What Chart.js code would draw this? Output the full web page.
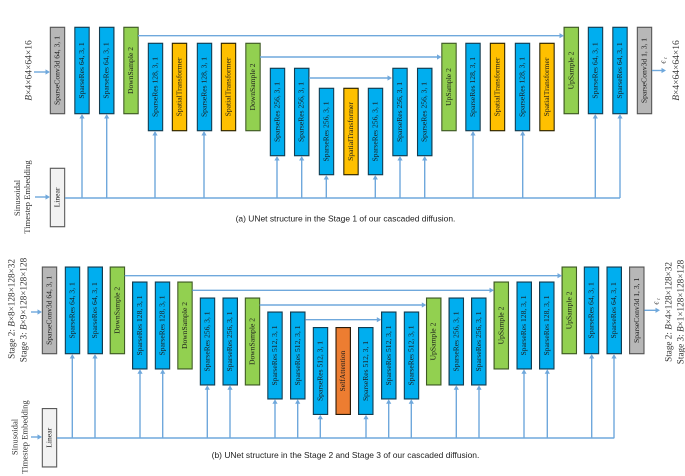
<!DOCTYPE html>
<html><head><meta charset="utf-8">
<script src="https://cdn.jsdelivr.net/npm/chart.js@4"></script>
<style>html,body{margin:0;padding:0;background:#fff}#w{position:relative;width:685px;height:476px}canvas{display:block;filter:blur(.3px)}</style>
</head><body><div id="w"><canvas id="c"></canvas></div>
<script>
// Block labels (panel a, then panel b)
const names = [
 "SparseConv3d 64, 3, 1","SparseRes 64, 3, 1","SparseRes 64, 3, 1","DownSample 2",
 "SparseRes 128, 3, 1","SpatialTransformer","SparseRes 128, 3, 1","SpatialTransformer","DownSample 2",
 "SparseRes 256, 3, 1","SparseRes 256, 3, 1","SparseRes 256, 3, 1","SpatialTransformer","SparseRes 256, 3, 1",
 "SparseRes 256, 3, 1","SparseRes 256, 3, 1","UpSample 2","SparseRes 128, 3, 1","SpatialTransformer",
 "SparseRes 128, 3, 1","SpatialTransformer","UpSample 2","SparseRes 64, 3, 1","SparseRes 64, 3, 1","SparseConv3d 1, 3, 1","Linear",
 "SparseConv3d 64, 3, 1","SparseRes 64, 3, 1","SparseRes 64, 3, 1","DownSample 2",
 "SparseRes 128, 3, 1","SparseRes 128, 3, 1","DownSample 2","SparseRes 256, 3, 1","SparseRes 256, 3, 1","DownSample 2",
 "SparseRes 512, 3, 1","SparseRes 512, 3, 1","SparseRes 512, 3, 1","SelfAttention","SparseRes 512, 3, 1",
 "SparseRes 512, 3, 1","SparseRes 512, 3, 1","UpSample 2","SparseRes 256, 3, 1","SparseRes 256, 3, 1",
 "UpSample 2","SparseRes 128, 3, 1","SparseRes 128, 3, 1","UpSample 2","SparseRes 64, 3, 1","SparseRes 64, 3, 1","SparseConv3d 1, 3, 1","Linear"];
// Block centres on the x axis
const centers = [
 57.5,82,106.7,131,155.5,179.5,204.5,228.5,253,277.5,301.7,326.5,351,375.5,400,424.7,449,473,497.5,522.5,547,571.3,595.5,620,644.5,57.5,
 49.5,72.5,95.2,117.4,139.8,162.5,185,207.5,230.2,252.5,275,297.8,320.5,343.2,365.8,388.8,411.5,433.7,456.3,478.8,501.3,524.2,546.8,569.3,591.5,614.2,636.8,49.5];
// Block top and bottom on the y axis
const tops = [
 27,27,27,27,43,43,43,43,43,68,68,88,88,88,68,68,43,43,43,43,43,27,27,27,27,168,
 266.7,266.7,266.7,266.7,281.7,281.7,281.7,297.7,297.7,297.7,311.7,311.7,327.3,327.3,327.3,311.7,311.7,297.7,297.7,297.7,281.7,281.7,281.7,266.7,266.7,266.7,266.7,408.3];
const bottoms = [
 114,114,114,114,131,131,131,131,131,156,156,175,175,175,156,156,131,131,131,131,131,114,114,114,114,227,
 354,354,354,354,369.3,369.3,369.3,385.3,385.3,385.3,399.3,399.3,414.7,414.7,414.7,399.3,399.3,385.3,385.3,385.3,369.3,369.3,369.3,354,354,354,354,467.3];
// Kind colours
const fills = {SparseConv:"#b7b7b7",SparseRes:"#00aeef",DownSample:"#92d050",UpSample:"#92d050",SpatialTransformer:"#ffc000",SelfAttention:"#ed7d31",Linear:"#f2f2f2"};
const edges = {SparseConv:"#555555",SparseRes:"#143c50",DownSample:"#3f5a25",UpSample:"#3f5a25",SpatialTransformer:"#2a2200",SelfAttention:"#2a1a08",Linear:"#5a5a5a"};
// Connections
const trunkA = {y:198,from:65,to:620};
const tapsA = [82,106.7,155,204,277,301.7,326.3,375.3,400,424.7,473,522.7,595.3,620];
const tapEndsA = [114,114,131,131,156,156,175,175,156,156,131,131,114,114];
const trunkB = {y:438,from:57,to:614.3};
const tapsB = [72.3,95,140,162.7,207.3,230,275,297.7,320.3,366,388.7,411.3,456.3,479,524,547.3,591.7,614];
const tapEndsB = [354,354,369.3,369.3,385.3,385.3,399.3,399.3,414.7,414.7,399.3,399.3,385.3,385.3,369.3,369.3,354,354];
const skipY = [35.7,57,78,275.7,290.3,305,319.7];
const skipFrom = [138,260,309,124.7,192.3,259.7,305.3];
const skipTo = [564,441.5,392,562,494,426.3,381.3];
const stubY = [72,197,70.5,312,437,310.3];
const stubFrom = [34,35,652,31,31,644.3];
const stubTo = [50,50,666,42,42,660];
// Free text
const sideTexts = ["B×4×64×64×16","Sinusoidal","Timestep Embedding","B×4×64×64×16",
 "Stage 2: B×8×128×128×32","Stage 3: B×9×128×128×128","Sinusoidal","Timestep Embedding","Stage 2: B×4×128×128×32","Stage 3: B×1×128×128×128"];
const sideX = [29,17.5,27.5,676.5,12.3,24.3,15,25,669.3,681];
const sideY = [70.5,198,197,70.5,309,310,437,437,312,312];
const sideSizes = [9.5,8.6,8.6,9.5,9.2,9.2,8.6,8.6,9.2,9.2];
const captions = ["(a) UNet structure in the Stage 1 of our cascaded diffusion.","(b) UNet structure in the Stage 2 and Stage 3 of our cascaded diffusion."];
const captionX = [345.5,345.5];
const captionY = [219,455.7];
const epsX = [663.5,656.5];
const epsY = [62,303];

const kind = n => n.startsWith("SparseConv") ? "SparseConv" : n.split(" ")[0];
const LINE = "#6fa8dc", TIP = 3;
const lineDs = (pts, arrow) => ({type:"scatter",showLine:true,data:pts,borderColor:LINE,backgroundColor:LINE,
  borderWidth:1.4,pointStyle:"triangle",pointBorderWidth:0,
  pointRadius:pts.map((p,i)=>arrow!==undefined&&i===pts.length-1?TIP:0),
  pointRotation:arrow||0,pointHoverRadius:0,order:0});
const datasets = [];
for (const t of [trunkA,trunkB]) datasets.push(lineDs([{x:t.from,y:t.y},{x:t.to,y:t.y}]));
tapsA.forEach((x,i)=>datasets.push(lineDs([{x,y:trunkA.y},{x,y:tapEndsA[i]+TIP}],0)));
tapsB.forEach((x,i)=>datasets.push(lineDs([{x,y:trunkB.y},{x,y:tapEndsB[i]+TIP}],0)));
skipY.forEach((y,i)=>datasets.push(lineDs([{x:skipFrom[i],y},{x:skipTo[i]-TIP,y}],90)));
stubY.forEach((y,i)=>datasets.push(lineDs([{x:stubFrom[i],y},{x:stubTo[i]-TIP,y}],90)));
datasets.push({type:"bar",data:names.map((n,i)=>({x:centers[i],y:[tops[i],bottoms[i]]})),
  backgroundColor:names.map(n=>fills[kind(n)]),borderColor:names.map(n=>edges[kind(n)]),
  borderWidth:1.2,borderSkipped:false,barThickness:15,grouped:false,order:1});

function rotated(ctx,text,x,y,size,family){
  ctx.save();ctx.translate(x,y);ctx.rotate(-Math.PI/2);ctx.textBaseline="middle";
  const runs=text.split(/(B(?=×))/).filter(Boolean);
  const font=r=>`${r==="B"?"italic ":""}${size}px ${family}`;
  let w=0;for(const r of runs){ctx.font=font(r);w+=ctx.measureText(r).width;}
  let p=-w/2;ctx.textAlign="left";
  for(const r of runs){ctx.font=font(r);ctx.fillText(r,p,0);p+=ctx.measureText(r).width;}
  ctx.restore();
}
const textPlugin={id:"texts",afterDatasetsDraw(ch){
  const {ctx,scales:{x:X,y:Y}}=ch;ctx.save();ctx.fillStyle="#1c1c1c";
  names.forEach((n,i)=>rotated(ctx,n,X.getPixelForValue(centers[i]),Y.getPixelForValue((tops[i]+bottoms[i])/2),7.6,"'Liberation Serif'"));
  ctx.fillStyle="#333";
  sideTexts.forEach((t,i)=>rotated(ctx,t,X.getPixelForValue(sideX[i]),Y.getPixelForValue(sideY[i]),sideSizes[i],"'Liberation Serif'"));
  epsX.forEach((x,i)=>{ctx.save();ctx.translate(X.getPixelForValue(x),Y.getPixelForValue(epsY[i]));ctx.rotate(-Math.PI/2);
    ctx.textAlign="center";ctx.textBaseline="middle";ctx.font="italic 8px 'Liberation Serif'";ctx.fillText("ϵ",0,0);ctx.font="italic 5px 'Liberation Serif'";ctx.fillText("t",4,2);ctx.restore();});
  ctx.font="8.45px 'Liberation Sans'";ctx.textAlign="center";ctx.textBaseline="middle";ctx.fillStyle="#222";
  captions.forEach((t,i)=>ctx.fillText(t,X.getPixelForValue(captionX[i]),Y.getPixelForValue(captionY[i])));
  ctx.restore();
}};
new Chart(document.getElementById("c"),{type:"bar",data:{datasets},plugins:[textPlugin],options:{
  responsive:true,maintainAspectRatio:false,animation:false,devicePixelRatio:2,
  layout:{padding:0,autoPadding:false},
  plugins:{legend:{display:false},tooltip:{enabled:false},title:{display:false}},
  scales:{x:{type:"linear",min:0,max:685,display:false,offset:false},y:{type:"linear",min:0,max:476,reverse:true,display:false}}
}});
</script></body></html>
